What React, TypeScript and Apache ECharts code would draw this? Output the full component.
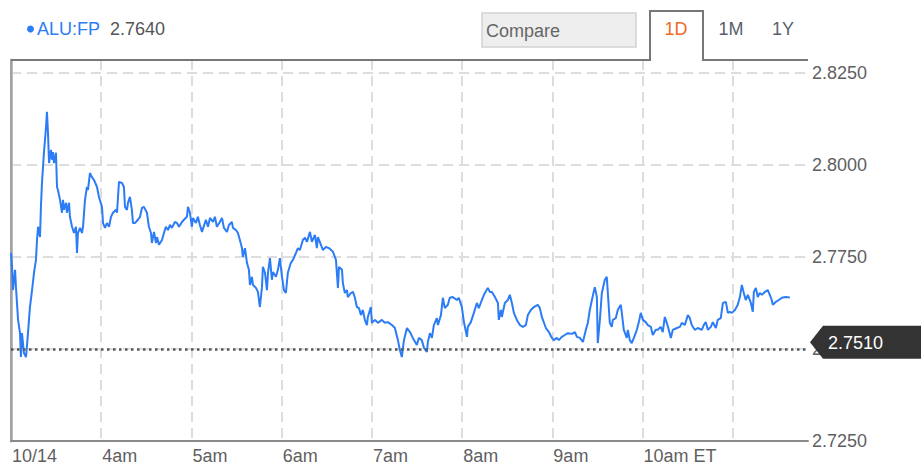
import React, { useEffect, useRef } from 'react';
import * as echarts from 'echarts';

const tickerName = 'ALU:FP';
const referencePrice = 2.751;
const rangeTabs = ['1D', '1M', '1Y'];
const compareLabel = 'Compare';

// minutes after 03:00 ET on 10/14
const minutes = [
  0, 0.7, 1.3, 2.7, 3.3, 4.7, 6.0, 6.6, 7.3, 8.6, 10.0, 11.3, 12.6, 14.0, 15.3, 16.6, 17.3, 18.0, 19.3, 19.9,
  20.6, 21.9, 23.3, 23.9, 24.6, 25.3, 26.6, 27.3, 27.9, 28.6, 29.9, 30.6, 31.2, 32.6, 33.9, 34.6, 35.2, 36.6, 37.2, 38.6,
  39.2, 40.6, 41.9, 43.2, 43.9, 44.5, 45.9, 47.2, 47.9, 49.2, 50.5, 51.2, 52.5, 53.8, 55.2, 57.2, 58.5, 60.5, 61.2, 62.5,
  63.8, 65.2, 66.5, 67.8, 69.8, 70.5, 71.8, 73.8, 75.1, 75.8, 77.1, 77.8, 79.1, 80.4, 81.1, 82.4, 84.4, 85.8, 87.1, 88.4,
  90.4, 91.7, 93.1, 93.7, 95.1, 96.4, 97.1, 98.4, 100.4, 101.7, 103.0, 104.4, 105.7, 107.0, 109.0, 110.4, 111.7, 113.7, 115.0, 117.0,
  117.7, 119.0, 120.3, 121.0, 123.0, 124.3, 125.6, 127.0, 129.6, 131.0, 132.3, 134.3, 135.6, 136.9, 138.9, 140.3, 141.6, 143.6, 144.9, 146.9,
  147.6, 149.6, 150.9, 152.2, 153.6, 154.2, 155.6, 156.9, 158.2, 158.9, 160.2, 160.9, 162.9, 164.2, 165.5, 166.9, 167.5, 168.9, 170.2, 170.9,
  172.2, 173.5, 174.2, 176.2, 177.5, 178.8, 180.2, 181.5, 182.8, 184.1, 186.1, 187.5, 189.5, 190.8, 192.1, 194.1, 195.5, 196.8, 198.8, 200.1,
  202.1, 203.4, 204.1, 206.1, 207.4, 209.4, 211.4, 214.1, 216.1, 216.7, 217.4, 218.1, 220.1, 220.7, 222.0, 223.4, 224.0, 226.0, 227.4, 228.7,
  230.0, 231.4, 232.7, 234.0, 235.3, 236.7, 237.3, 239.3, 240.0, 242.0, 244.0, 246.6, 248.6, 250.6, 253.3, 255.3, 257.3, 258.6, 259.9, 261.3,
  263.3, 265.3, 267.2, 269.9, 271.2, 273.2, 274.6, 276.6, 277.2, 278.6, 279.9, 281.2, 283.2, 283.9, 285.9, 287.2, 288.5, 290.5, 291.8, 293.8,
  296.5, 297.8, 299.8, 301.2, 303.2, 303.8, 305.8, 307.8, 309.8, 311.1, 313.1, 314.5, 317.1, 318.4, 319.8, 321.8, 323.8, 324.4, 325.8, 326.4,
  328.4, 330.4, 331.7, 333.1, 334.4, 336.4, 338.4, 340.4, 342.4, 343.7, 345.7, 347.7, 350.3, 351.7, 353.0, 355.7, 357.7, 359.7, 361.0, 363.0,
  364.3, 366.3, 368.3, 370.3, 373.0, 375.0, 376.3, 378.3, 380.3, 382.3, 383.6, 384.9, 386.3, 388.2, 389.6, 390.2, 391.6, 392.9, 394.9, 396.2,
  396.9, 398.2, 399.5, 400.2, 402.2, 403.5, 405.5, 406.2, 407.5, 409.5, 410.2, 411.5, 412.8, 414.2, 416.2, 417.5, 418.8, 420.2, 422.1, 423.5,
  425.5, 426.8, 428.8, 430.1, 432.1, 433.4, 434.8, 436.1, 437.4, 438.8, 440.1, 442.8, 444.8, 446.1, 448.1, 450.1, 451.4, 452.7, 454.7, 456.7,
  459.4, 460.7, 462.0, 463.4, 465.4, 466.7, 468.7, 470.0, 472.0, 473.4, 475.4, 476.7, 478.0, 479.4, 481.4, 483.3, 484.7, 486.0, 487.3, 488.6,
  490.0, 492.0, 493.3, 494.0, 495.3, 496.6, 497.9, 499.3, 501.3, 503.3, 504.6, 505.9, 506.6, 508.6, 510.6, 512.6, 515.2, 517.9,
];

const prices = [
  2.7761, 2.7723, 2.7660, 2.7715, 2.7668, 2.7579, 2.7543, 2.7478, 2.7543, 2.7489, 2.7478, 2.7543, 2.7614, 2.7660, 2.7707, 2.7742, 2.7796, 2.7832, 2.7804, 2.7886,
  2.7951, 2.8033, 2.8103, 2.8144, 2.8087, 2.8005, 2.8041, 2.8014, 2.8035, 2.8005, 2.8033, 2.7940, 2.7932, 2.7905, 2.7870, 2.7905, 2.7878, 2.7897, 2.7870, 2.7897,
  2.7859, 2.7832, 2.7815, 2.7832, 2.7761, 2.7815, 2.7829, 2.7815, 2.7832, 2.7905, 2.7940, 2.7932, 2.7978, 2.7967, 2.7959, 2.7940, 2.7913, 2.7886, 2.7842, 2.7829,
  2.7842, 2.7832, 2.7859, 2.7870, 2.7878, 2.7870, 2.7954, 2.7951, 2.7940, 2.7886, 2.7878, 2.7897, 2.7913, 2.7878, 2.7842, 2.7842, 2.7851, 2.7859, 2.7883, 2.7886,
  2.7870, 2.7832, 2.7815, 2.7788, 2.7818, 2.7788, 2.7804, 2.7783, 2.7796, 2.7815, 2.7832, 2.7823, 2.7837, 2.7829, 2.7845, 2.7842, 2.7832, 2.7845, 2.7851, 2.7859,
  2.7886, 2.7870, 2.7832, 2.7856, 2.7842, 2.7859, 2.7837, 2.7818, 2.7851, 2.7832, 2.7856, 2.7845, 2.7859, 2.7832, 2.7845, 2.7856, 2.7829, 2.7818, 2.7837, 2.7845,
  2.7829, 2.7823, 2.7815, 2.7796, 2.7774, 2.7750, 2.7774, 2.7734, 2.7715, 2.7674, 2.7696, 2.7674, 2.7666, 2.7655, 2.7614, 2.7668, 2.7723, 2.7707, 2.7660, 2.7707,
  2.7747, 2.7688, 2.7709, 2.7696, 2.7715, 2.7747, 2.7696, 2.7660, 2.7652, 2.7707, 2.7734, 2.7742, 2.7761, 2.7774, 2.7769, 2.7796, 2.7802, 2.7791, 2.7818, 2.7791,
  2.7810, 2.7774, 2.7804, 2.7783, 2.7769, 2.7777, 2.7774, 2.7764, 2.7742, 2.7707, 2.7666, 2.7723, 2.7715, 2.7679, 2.7652, 2.7660, 2.7641, 2.7652, 2.7655, 2.7639,
  2.7614, 2.7611, 2.7592, 2.7606, 2.7579, 2.7565, 2.7587, 2.7614, 2.7571, 2.7579, 2.7571, 2.7579, 2.7571, 2.7573, 2.7565, 2.7557, 2.7524, 2.7497, 2.7478, 2.7524,
  2.7557, 2.7546, 2.7530, 2.7511, 2.7530, 2.7524, 2.7503, 2.7492, 2.7519, 2.7543, 2.7530, 2.7565, 2.7584, 2.7565, 2.7592, 2.7639, 2.7611, 2.7620, 2.7639, 2.7641,
  2.7633, 2.7639, 2.7614, 2.7573, 2.7533, 2.7560, 2.7573, 2.7598, 2.7625, 2.7611, 2.7633, 2.7647, 2.7666, 2.7655, 2.7655, 2.7641, 2.7625, 2.7579, 2.7606, 2.7587,
  2.7625, 2.7633, 2.7647, 2.7625, 2.7598, 2.7579, 2.7565, 2.7560, 2.7565, 2.7592, 2.7606, 2.7614, 2.7620, 2.7611, 2.7587, 2.7557, 2.7546, 2.7530, 2.7524, 2.7530,
  2.7524, 2.7533, 2.7538, 2.7543, 2.7541, 2.7546, 2.7533, 2.7530, 2.7519, 2.7552, 2.7571, 2.7606, 2.7633, 2.7668, 2.7641, 2.7516, 2.7579, 2.7652, 2.7688, 2.7696,
  2.7652, 2.7571, 2.7560, 2.7579, 2.7584, 2.7606, 2.7620, 2.7598, 2.7552, 2.7530, 2.7552, 2.7524, 2.7516, 2.7530, 2.7552, 2.7573, 2.7598, 2.7579, 2.7573, 2.7565,
  2.7560, 2.7538, 2.7552, 2.7552, 2.7560, 2.7546, 2.7587, 2.7571, 2.7552, 2.7530, 2.7552, 2.7557, 2.7560, 2.7571, 2.7565, 2.7592, 2.7584, 2.7565, 2.7552, 2.7557,
  2.7552, 2.7565, 2.7573, 2.7552, 2.7560, 2.7573, 2.7557, 2.7579, 2.7584, 2.7625, 2.7628, 2.7598, 2.7601, 2.7598, 2.7606, 2.7620, 2.7641, 2.7674, 2.7652, 2.7633,
  2.7647, 2.7625, 2.7601, 2.7655, 2.7666, 2.7641, 2.7652, 2.7647, 2.7655, 2.7660, 2.7647, 2.7633, 2.7620, 2.7628, 2.7633, 2.7639, 2.7641, 2.7640,
];

const xTickLabels = ['10/14', '4am', '5am', '6am', '7am', '8am', '9am', '10am ET', ''];

const FONT = '"Liberation Sans", Arial, sans-serif';

export default function App() {
  const ref = useRef<HTMLDivElement>(null);

  useEffect(() => {
    if (!ref.current) return;
    const chart = echarts.init(ref.current, null, { renderer: 'svg' });
    const last = prices[prices.length - 1];
    const data = minutes.map((m, i) => [m, prices[i]]);

    chart.setOption({
      animation: false,
      backgroundColor: '#ffffff',
      textStyle: { fontFamily: FONT },
      grid: { left: 11, right: 113, top: 60, bottom: 25, containLabel: false },
      legend: {
        data: [tickerName],
        left: 22,
        top: 15,
        icon: 'circle',
        itemWidth: 7,
        itemHeight: 7,
        itemGap: 10,
        selectedMode: false,
        formatter: (name: string) => `{n|${name}}  {v|${last.toFixed(4)}}`,
        textStyle: {
          fontFamily: FONT,
          fontSize: 18,
          padding: [0, 0, 0, -2],
          rich: {
            n: { color: '#2b7cf5', fontSize: 18, fontFamily: FONT },
            v: { color: '#555555', fontSize: 18, fontFamily: FONT },
          },
        },
      },
      xAxis: {
        type: 'value',
        min: 0,
        max: 530,
        interval: 60,
        axisLine: { show: true, lineStyle: { color: '#8a8a8a', width: 2 } },
        axisTick: { show: false },
        axisLabel: {
          show: true,
          margin: 6,
          align: 'left',
          padding: [0, 0, 0, 1],
          color: '#5f5f5f',
          fontSize: 18,
          fontFamily: FONT,
          showMaxLabel: false,
          formatter: (v: number) => {
            const idx = Math.round(v / 60);
            return Math.abs(v - idx * 60) < 0.01 ? xTickLabels[idx] ?? '' : '';
          },
        },
        splitLine: {
          show: true,
          showMinLine: false,
          showMaxLine: false,
          lineStyle: { color: '#dddddd', width: 2, type: [10, 6] },
        },
      },
      yAxis: [
        {
          type: 'value',
          position: 'right',
          min: 2.725,
          max: 2.8285,
          interval: 0.025,
          axisLine: { show: true, lineStyle: { color: '#bbbbbb', width: 3 } },
          axisTick: { show: false },
          axisLabel: {
            show: true,
            margin: 4,
            align: 'left',
            padding: [12, 0, 0, 0],
            color: '#5f5f5f',
            fontSize: 18,
            fontFamily: FONT,
            showMaxLabel: false,
            formatter: (v: number) => v.toFixed(4),
          },
          splitLine: {
            show: true,
            showMinLine: false,
            showMaxLine: false,
            lineStyle: { color: '#dddddd', width: 2, type: [10, 6] },
          },
        },
        {
          type: 'value',
          position: 'left',
          min: 2.725,
          max: 2.8285,
          axisLine: { show: true, lineStyle: { color: '#9a9a9a', width: 1.5 } },
          axisTick: { show: false },
          axisLabel: { show: false },
          splitLine: { show: false },
        },
      ],
      series: [
        {
          name: tickerName,
          type: 'line',
          yAxisIndex: 0,
          data,
          showSymbol: false,
          symbol: 'none',
          lineStyle: { color: '#2b7cf5', width: 2 },
          itemStyle: { color: '#2b7cf5' },
          silent: true,
          markLine: {
            silent: true,
            symbol: ['none', 'none'],
            label: { show: false },
            lineStyle: { color: '#555555', width: 2.5, type: [2.5, 3.5] },
            data: [{ yAxis: referencePrice }],
          },
        },
      ],
    });

    const py = chart.convertToPixel({ yAxisIndex: 0 }, referencePrice) as number;
    const axisRight = chart.convertToPixel({ xAxisIndex: 0 }, 530) as number;
    const cy = py - 3;
    const tipX = axisRight + 2;
    const boxX = tipX + 13;

    chart.setOption({
      graphic: [
        {
          type: 'polyline',
          shape: { points: [[11, 60], [650, 60], [650, 11], [703, 11], [703, 60], [axisRight, 60]] },
          style: { stroke: '#777777', lineWidth: 2, fill: null },
          z: 10,
        },
        {
          type: 'rect',
          shape: { x: 482, y: 13, width: 154, height: 34 },
          style: { fill: '#eeeeee', stroke: '#d2d2d2', lineWidth: 1.5 },
        },
        {
          type: 'text',
          x: 486,
          y: 31,
          style: { text: compareLabel, fill: '#666666', font: `18px ${FONT}`, verticalAlign: 'middle', align: 'left' },
        },
        ...rangeTabs.map((t, i) => ({
          type: 'text',
          x: [676, 731, 783][i],
          y: 29,
          style: {
            text: t,
            fill: i === 0 ? '#f26b1d' : '#5a5f6a',
            font: `18px ${FONT}`,
            align: 'center',
            verticalAlign: 'middle',
          },
        })),
        {
          type: 'polygon',
          shape: {
            points: [[tipX, cy], [boxX, cy - 16.5], [921, cy - 16.5], [921, cy + 16.5], [boxX, cy + 16.5]],
          },
          style: { fill: '#333333' },
          z: 20,
        },
        {
          type: 'text',
          x: boxX + 5,
          y: cy + 1,
          style: {
            text: referencePrice.toFixed(4),
            fill: '#ffffff',
            font: `18px ${FONT}`,
            align: 'left',
            verticalAlign: 'middle',
          },
          z: 21,
        },
      ],
    });

    return () => chart.dispose();
  }, []);

  return (
    <div
      ref={ref}
      style={{ position: 'fixed', left: 0, top: 0, width: 921, height: 466, background: '#ffffff' }}
    />
  );
}
